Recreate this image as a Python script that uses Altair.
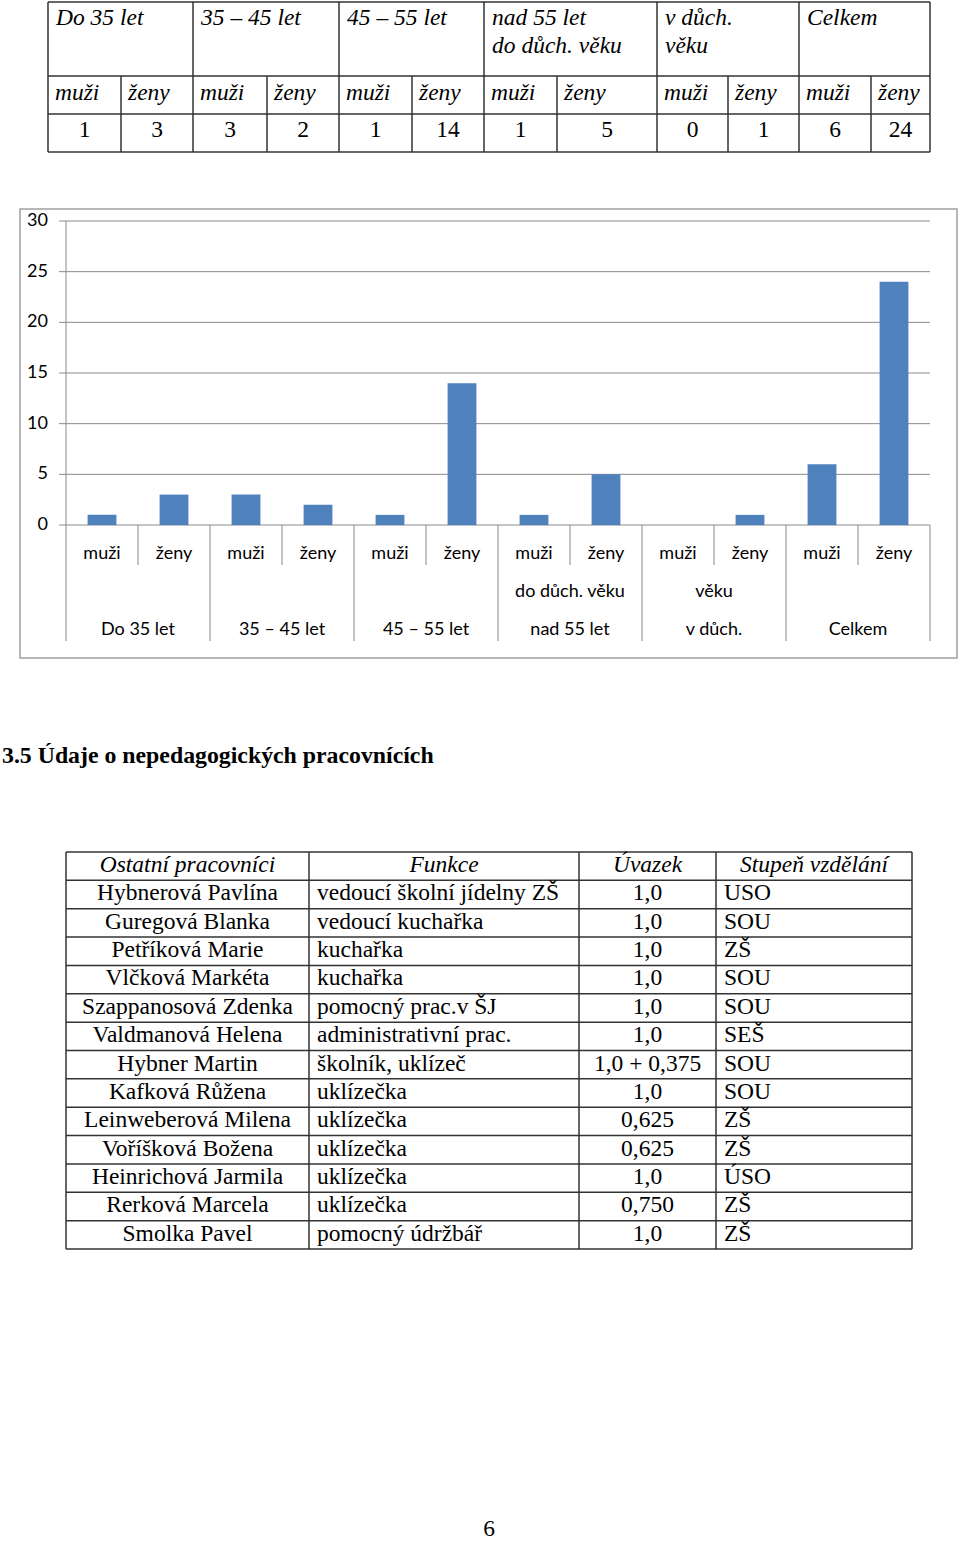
import altair as alt
import pandas as pd

# ---------------- data ----------------
age_groups = ["Do 35 let", "35 – 45 let", "45 – 55 let",
              "nad 55 let\ndo důch. věku", "v důch.\nvěku", "Celkem"]
sexes = ["muži", "ženy"]
counts = [1, 3, 3, 2, 1, 14, 1, 5, 0, 1, 6, 24]
y_ticks = [0, 5, 10, 15, 20, 25, 30]

heading = ["3.5 Údaje o nepedagogických pracovnících"]
staff_header = ["Ostatní pracovníci", "Funkce", "Úvazek", "Stupeň vzdělání"]
staff_names = ["Hybnerová Pavlína", "Guregová Blanka", "Petříková Marie",
               "Vlčková Markéta", "Szappanosová Zdenka", "Valdmanová Helena",
               "Hybner Martin", "Kafková Růžena", "Leinweberová Milena",
               "Voříšková Božena", "Heinrichová Jarmila", "Rerková Marcela",
               "Smolka Pavel"]
staff_roles = ["vedoucí školní jídelny ZŠ", "vedoucí kuchařka", "kuchařka",
               "kuchařka", "pomocný prac.v ŠJ", "administrativní prac.",
               "školník, uklízeč", "uklízečka", "uklízečka", "uklízečka",
               "uklízečka", "uklízečka", "pomocný údržbář"]
staff_load = ["1,0", "1,0", "1,0", "1,0", "1,0", "1,0", "1,0 + 0,375",
              "1,0", "0,625", "0,625", "1,0", "0,750", "1,0"]
staff_edu = ["USO", "SOU", "ZŠ", "SOU", "SOU", "SEŠ", "SOU", "SOU",
             "ZŠ", "ZŠ", "ÚSO", "ZŠ", "ZŠ"]
page_number = ["6"]

# ---------------- layout ----------------
W, H = 960, 1541
SERIF = "Liberation Serif"
SANS = "Lato"
FS = 23.5
CFS = 18
LINE = "#333333"
GRID = "#8a8a8a"
BAR = "#4F81BD"

T1_COLS = [48, 121, 193, 267, 339, 412, 484, 557, 657, 728, 799, 871, 930]
T1_ROWS = [2, 76, 114, 152]
T2_COLS = [66, 309, 579, 716, 912]
T2_ROWS = [852, 1249]
N2 = len(staff_names) + 1
PX = [66, 930]
PY = [525, 221]


def lin(domain, rng):
    return alt.Scale(type="linear", domain=domain, range=rng, nice=False, zero=False)


t1x = lin(list(range(len(T1_COLS))), T1_COLS)
t1y = lin(list(range(len(T1_ROWS))), T1_ROWS)
t2x = lin(list(range(len(T2_COLS))), T2_COLS)
t2y = lin([0, N2], T2_ROWS)
cx = lin([0, len(counts)], PX)
cy = lin([min(y_ticks), max(y_ticks)], PY)

layers = []
ncol = len(counts)

# ---------------- top table ----------------
h1 = pd.DataFrame({"r": list(range(len(T1_ROWS))), "a": 0, "b": ncol})
layers.append(alt.Chart(h1).mark_rule(color=LINE, strokeWidth=1.5).encode(
    y=alt.Y("r:Q", scale=t1y, axis=None),
    x=alt.X("a:Q", scale=t1x, axis=None), x2="b:Q"))
v1 = pd.DataFrame({"c": list(range(ncol + 1))})
v1["a"] = [0 if c % 2 == 0 else 1 for c in v1["c"]]
v1["b"] = len(T1_ROWS) - 1
layers.append(alt.Chart(v1).mark_rule(color=LINE, strokeWidth=1.5).encode(
    x=alt.X("c:Q", scale=t1x, axis=None),
    y=alt.Y("a:Q", scale=t1y, axis=None), y2="b:Q"))

g1 = pd.DataFrame({"c": [2 * g for g in range(len(age_groups))], "r": 0,
                   "label": age_groups})
layers.append(alt.Chart(g1).mark_text(
    font=SERIF, fontSize=FS, fontStyle="italic", align="left", baseline="alphabetic",
    dx=8, dy=23, lineBreak="\n", lineHeight=28, color="black").encode(
    x=alt.X("c:Q", scale=t1x, axis=None), y=alt.Y("r:Q", scale=t1y, axis=None),
    text="label:N"))
s1 = pd.DataFrame({"c": list(range(ncol)), "r": 1,
                   "label": [sexes[i % 2] for i in range(ncol)]})
layers.append(alt.Chart(s1).mark_text(
    font=SERIF, fontSize=FS, fontStyle="italic", align="left", baseline="alphabetic",
    dx=7, dy=24, color="black").encode(
    x=alt.X("c:Q", scale=t1x, axis=None), y=alt.Y("r:Q", scale=t1y, axis=None),
    text="label:N"))
n1 = pd.DataFrame({"c": [i + 0.5 for i in range(ncol)], "r": 2,
                   "label": [str(v) for v in counts]})
layers.append(alt.Chart(n1).mark_text(
    font=SERIF, fontSize=FS, align="center", baseline="alphabetic",
    dy=23, color="black").encode(
    x=alt.X("c:Q", scale=t1x, axis=None), y=alt.Y("r:Q", scale=t1y, axis=None),
    text="label:N"))

# ---------------- bar chart ----------------
one = pd.DataFrame({"k": [0]})
layers.append(alt.Chart(one).mark_rect(
    fillOpacity=0, stroke="#a0a0a0", strokeWidth=1.5).encode(
    x=alt.value(20), x2=alt.value(957), y=alt.value(209), y2=alt.value(658)))

gr = pd.DataFrame({"v": y_ticks})
layers.append(alt.Chart(gr).mark_rule(color=GRID, strokeWidth=1).encode(
    y=alt.Y("v:Q", scale=cy, axis=None), x=alt.value(59), x2=alt.value(PX[1])))
layers.append(alt.Chart(gr).mark_text(
    font=SANS, fontSize=CFS, align="right", baseline="middle", color="black").encode(
    y=alt.Y("v:Q", scale=cy, axis=None), x=alt.value(48), text="v:Q"))
ax = pd.DataFrame({"a": [min(y_ticks)], "b": [max(y_ticks)]})
layers.append(alt.Chart(ax).mark_rule(color=GRID, strokeWidth=1).encode(
    x=alt.value(PX[0]), y=alt.Y("a:Q", scale=cy, axis=None), y2="b:Q"))

bars = pd.DataFrame({"i": list(range(ncol)), "v": counts})
bars["x0"] = bars["i"] + 0.3
bars["x1"] = bars["i"] + 0.7
bars["z"] = 0
layers.append(alt.Chart(bars).mark_rect(color=BAR).encode(
    x=alt.X("x0:Q", scale=cx, axis=None), x2="x1:Q",
    y=alt.Y("v:Q", scale=cy, axis=None), y2="z:Q"))

sep_minor = pd.DataFrame({"c": [c for c in range(ncol + 1) if c % 2 == 1]})
sep_major = pd.DataFrame({"c": [c for c in range(ncol + 1) if c % 2 == 0]})
layers.append(alt.Chart(sep_minor).mark_rule(color=GRID, strokeWidth=1).encode(
    x=alt.X("c:Q", scale=cx, axis=None), y=alt.value(525), y2=alt.value(565)))
layers.append(alt.Chart(sep_major).mark_rule(color=GRID, strokeWidth=1).encode(
    x=alt.X("c:Q", scale=cx, axis=None), y=alt.value(525), y2=alt.value(641)))

sl = pd.DataFrame({"c": [i + 0.5 for i in range(ncol)],
                   "label": [sexes[i % 2] for i in range(ncol)]})
layers.append(alt.Chart(sl).mark_text(
    font=SANS, fontSize=CFS, align="center", baseline="alphabetic", color="black").encode(
    x=alt.X("c:Q", scale=cx, axis=None), y=alt.value(559), text="label:N"))
gl = pd.DataFrame({"c": [2 * g + 1 for g in range(len(age_groups))],
                   "l1": [a.split("\n")[0] for a in age_groups],
                   "l2": [a.split("\n")[1] if "\n" in a else "" for a in age_groups]})
layers.append(alt.Chart(gl).mark_text(
    font=SANS, fontSize=CFS, align="center", baseline="alphabetic", color="black").encode(
    x=alt.X("c:Q", scale=cx, axis=None), y=alt.value(635), text="l1:N"))
layers.append(alt.Chart(gl).mark_text(
    font=SANS, fontSize=CFS, align="center", baseline="alphabetic", color="black").encode(
    x=alt.X("c:Q", scale=cx, axis=None), y=alt.value(597), text="l2:N"))

# ---------------- heading ----------------
hd = pd.DataFrame({"label": heading})
layers.append(alt.Chart(hd).mark_text(
    font=SERIF, fontSize=23.8, fontWeight="bold", align="left", baseline="alphabetic",
    color="black").encode(x=alt.value(2), y=alt.value(763), text="label:N"))

# ---------------- staff table ----------------
h2 = pd.DataFrame({"r": list(range(N2 + 1)), "a": 0, "b": len(T2_COLS) - 1})
layers.append(alt.Chart(h2).mark_rule(color=LINE, strokeWidth=1.5).encode(
    y=alt.Y("r:Q", scale=t2y, axis=None),
    x=alt.X("a:Q", scale=t2x, axis=None), x2="b:Q"))
v2 = pd.DataFrame({"c": list(range(len(T2_COLS))), "a": 0, "b": N2})
layers.append(alt.Chart(v2).mark_rule(color=LINE, strokeWidth=1.5).encode(
    x=alt.X("c:Q", scale=t2x, axis=None),
    y=alt.Y("a:Q", scale=t2y, axis=None), y2="b:Q"))

hdr = pd.DataFrame({"c": [i + 0.5 for i in range(len(staff_header))], "r": 0,
                    "label": staff_header})
layers.append(alt.Chart(hdr).mark_text(
    font=SERIF, fontSize=FS, fontStyle="italic", align="center", baseline="alphabetic",
    dy=20, color="black").encode(
    x=alt.X("c:Q", scale=t2x, axis=None), y=alt.Y("r:Q", scale=t2y, axis=None),
    text="label:N"))

rows = list(range(1, N2))
for col, vals, align, dx in [(0.5, staff_names, "center", 0),
                             (1, staff_roles, "left", 8),
                             (2.5, staff_load, "center", 0),
                             (3, staff_edu, "left", 8)]:
    d = pd.DataFrame({"c": col, "r": rows, "label": vals})
    layers.append(alt.Chart(d).mark_text(
        font=SERIF, fontSize=FS, align=align, baseline="alphabetic",
        dx=dx, dy=20, color="black").encode(
        x=alt.X("c:Q", scale=t2x, axis=None), y=alt.Y("r:Q", scale=t2y, axis=None),
        text="label:N"))

# ---------------- page number ----------------
pn = pd.DataFrame({"label": page_number})
layers.append(alt.Chart(pn).mark_text(
    font=SERIF, fontSize=FS, align="center", baseline="bottom", color="black").encode(
    x=alt.value(489), y=alt.value(1541), text="label:N"))

chart = alt.layer(*layers).resolve_scale(
    x="independent", y="independent"
).properties(
    width=W, height=H, padding=0,
    autosize=alt.AutoSizeParams(type="none"),
    background="white"
).configure_view(stroke=None)

chart.save("out.html", embed_options={"renderer": "svg", "actions": False})
